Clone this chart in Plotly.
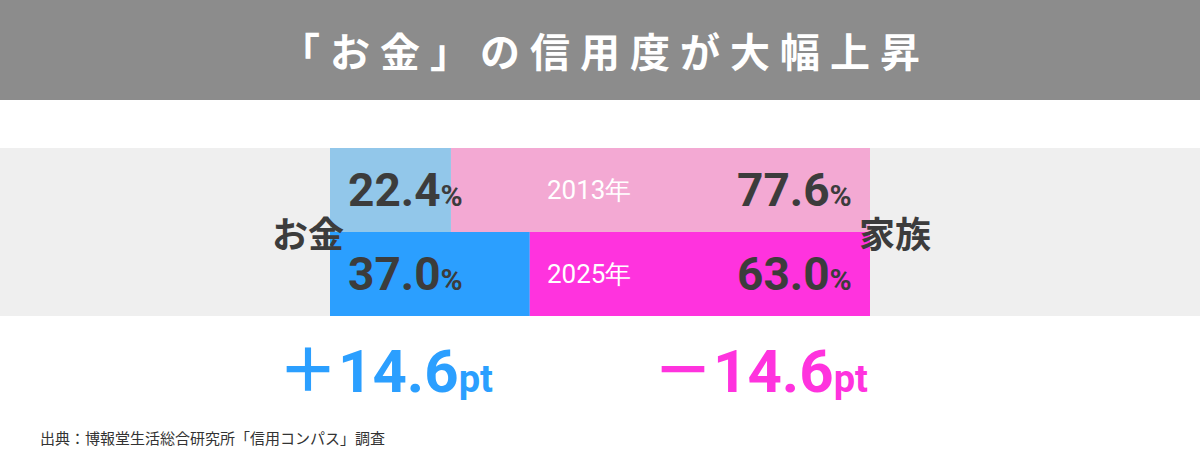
import plotly.graph_objects as go

years = ["2013年", "2025年"]
money = [22.4, 37.0]
family = [77.6, 63.0]
money_colors = ["#92c7ea", "#2b9fff"]
family_colors = ["#f3a9d3", "#ff33de"]
title = "「お金」の信用度が大幅上昇"
source = "出典：博報堂生活総合研究所「信用コンパス」調査"
diffs = ["＋", "－"]
diff_vals = ["14.6", "14.6"]

W, H = 1200, 468
px = 5.4
x0 = -330 / px
x1 = (W - 330) / px
rows_y = [190, 274]
F = "Noto Sans CJK JP"
N = "Roboto"
dark = "#3c3c3c"

fig = go.Figure()
fig.add_trace(go.Bar(y=rows_y, x=money, base=[0, 0], orientation="h", width=84,
                     marker=dict(color=money_colors, line_width=0), hoverinfo="skip"))
fig.add_trace(go.Bar(y=rows_y, x=family, base=money, orientation="h", width=84,
                     marker=dict(color=family_colors, line_width=0), hoverinfo="skip"))

shapes = [
    dict(type="rect", xref="paper", yref="paper", x0=0, x1=1, y0=1 - 100 / H, y1=1,
         fillcolor="#8c8c8c", line_width=0, layer="below"),
    dict(type="rect", xref="paper", yref="y", x0=0, x1=1, y0=148, y1=316,
         fillcolor="#efefef", line_width=0, layer="below"),
]
ann = [
    dict(xref="paper", yref="paper", x=0.5, y=1 - 50 / H, yanchor="middle",
         text="<b>" + "\u2005".join(title) + "</b>",
         font=dict(family=F, size=40, color="white"), showarrow=False),
    dict(xref="paper", yref="y", x=270 / W, y=232, yanchor="middle", text="<b>お金</b>",
         font=dict(family=F, size=36, color=dark), showarrow=False),
    dict(xref="paper", yref="y", x=933 / W, y=232, yanchor="middle", text="<b>家族</b>",
         font=dict(family=F, size=36, color=dark), showarrow=False),
    dict(xref="paper", yref="paper", x=38 / W, y=1 - 437 / H, xanchor="left", yanchor="middle",
         text=source, font=dict(family=F, size=15, color="#333"), showarrow=False),
]
for i, y in enumerate(rows_y):
    ann.append(dict(x=3, y=y, xanchor="left", yanchor="middle", showarrow=False,
                    text=f"<b>{money[i]:.1f}<span style='font-size:30px'>%</span></b>",
                    font=dict(family=N, size=46, color=dark)))
    ann.append(dict(x=97, y=y, xanchor="right", yanchor="middle", showarrow=False,
                    text=f"<b>{family[i]:.1f}<span style='font-size:30px'>%</span></b>",
                    font=dict(family=N, size=46, color=dark)))
    ann.append(dict(x=48, y=y, yanchor="middle", showarrow=False, text=years[i],
                    font=dict(family=N, size=26, color="white")))
for cx, sign, val, col in [(385, diffs[0], diff_vals[0], "#2b9fff"),
                           (760, diffs[1], diff_vals[1], "#ff33de")]:
    ann.append(dict(x=(cx - 330) / px, y=365, yanchor="middle", showarrow=False,
                    text=f"<b>{sign}<span style='font-family:Roboto'>{val}</span><span style='font-family:Roboto;font-size:38px'>pt</span></b>",
                    font=dict(family=F, size=60, color=col)))

fig.update_layout(width=W, height=H, margin=dict(l=0, r=0, t=0, b=0),
                  paper_bgcolor="white", plot_bgcolor="white", barmode="overlay",
                  showlegend=False, shapes=shapes, annotations=ann,
                  xaxis=dict(range=[x0, x1], visible=False, fixedrange=True),
                  yaxis=dict(range=[H, 0], visible=False, fixedrange=True))
fig.write_html("out.html", config={"displayModeBar": False},
               post_script="document.body.style.margin='0';")
